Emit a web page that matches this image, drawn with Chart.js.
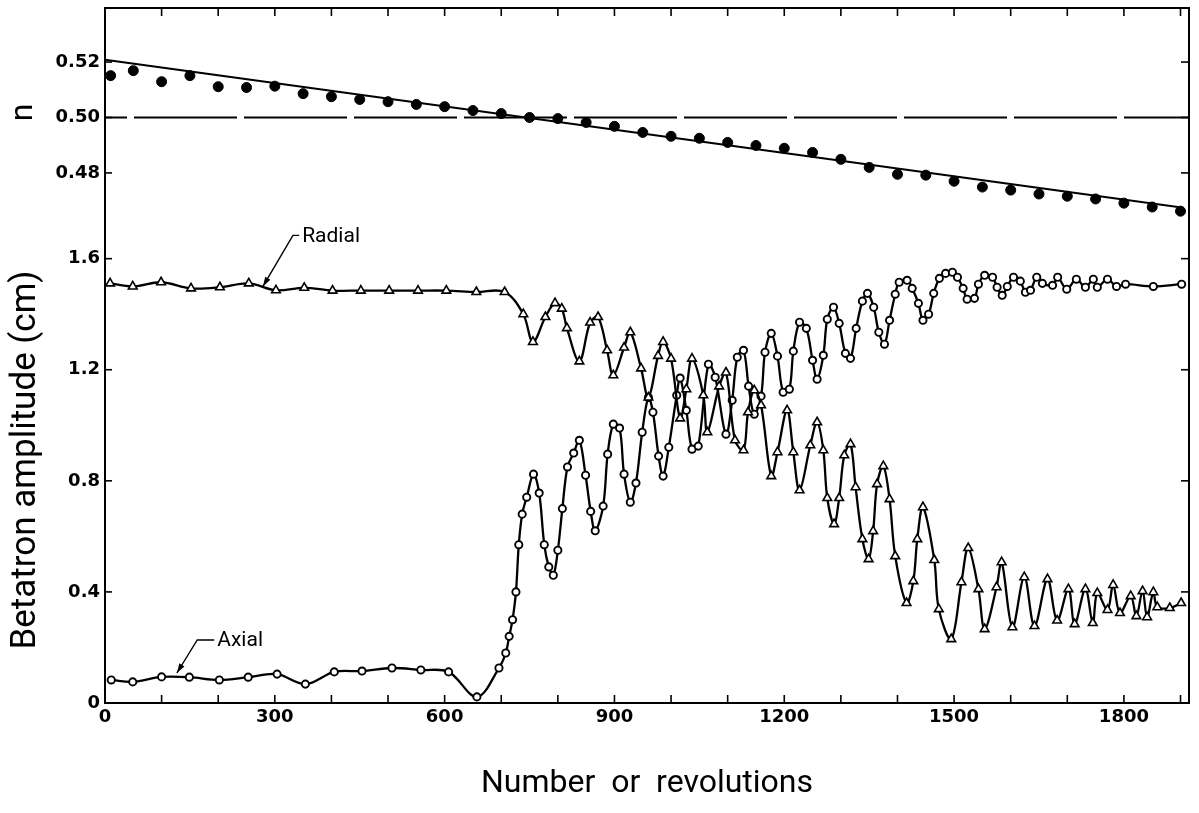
<!DOCTYPE html>
<html>
<head>
<meta charset="utf-8">
<script src="https://cdn.jsdelivr.net/npm/chart.js@4.4.1/dist/chart.umd.min.js"></script>
<style>
  html, body { margin: 0; padding: 0; background: #fff; }
  #caja { width: 1199px; height: 813px; position: relative; }
</style>
</head>
<body>
<div id="caja"><canvas id="grafica"></canvas></div>
<script>
// ---- datos ----
// n (puntos negros) vs numero de revoluciones
const nPuntosX = [10, 50, 100, 150, 200, 250, 300, 350, 400, 450, 500, 550, 600, 650, 700, 750, 800, 850, 900, 950,
  1000, 1050, 1100, 1150, 1200, 1250, 1300, 1350, 1400, 1450, 1500, 1550, 1600, 1650, 1700, 1750, 1800, 1850, 1900];
const nPuntosY = [0.5151, 0.5169, 0.5129, 0.5151, 0.5111, 0.5108, 0.5113, 0.5086, 0.5075, 0.5065, 0.5057, 0.5047, 0.5039,
  0.5025, 0.5014, 0.5000, 0.4996, 0.4982, 0.4968, 0.4946, 0.4932, 0.4925, 0.4910, 0.4899, 0.4889, 0.4874, 0.4849, 0.4820,
  0.4795, 0.4792, 0.4770, 0.4749, 0.4738, 0.4724, 0.4716, 0.4706, 0.4691, 0.4677, 0.4662];
// recta de n
const nRectaX = [0, 1905];
const nRectaY = [0.5208, 0.4674];
// linea n = 0.50
const nMedioX = [0, 1915];
const nMedioY = [0.50, 0.50];

// amplitud radial (triangulos)
const radialX = [9, 49, 99, 152, 203, 254, 302, 352, 402, 452, 502, 553, 603, 656, 706, 739, 756, 778, 795, 807, 816, 838,
  857, 871, 887, 898, 917, 928, 947, 960, 977, 986, 1000, 1016, 1027, 1037, 1057, 1064, 1085, 1097, 1113, 1128, 1136, 1147,
  1159, 1177, 1188, 1205, 1216, 1227, 1246, 1258, 1269, 1276, 1288, 1297, 1306, 1317, 1326, 1338, 1349, 1357, 1364, 1375,
  1386, 1396, 1416, 1428, 1435, 1445, 1465, 1473, 1495, 1513, 1525, 1543, 1554, 1575, 1584, 1603, 1624, 1642, 1665, 1682,
  1702, 1713, 1732, 1745, 1753, 1771, 1781, 1793, 1812, 1822, 1833, 1841, 1852, 1859, 1881, 1901];
const radialY = [1.511, 1.50, 1.515, 1.493, 1.497, 1.511, 1.486, 1.495, 1.485, 1.485, 1.485, 1.485, 1.485, 1.48, 1.48, 1.40,
  1.30, 1.39, 1.44, 1.42, 1.35, 1.23, 1.37, 1.39, 1.27, 1.18, 1.28, 1.335, 1.205, 1.10, 1.25, 1.30, 1.24, 1.025, 1.13, 1.24,
  1.108, 0.975, 1.14, 1.19, 0.946, 0.91, 1.047, 1.126, 1.072, 0.817, 0.903, 1.054, 0.903, 0.766, 0.928, 1.011, 0.91, 0.738,
  0.644, 0.738, 0.892, 0.932, 0.777, 0.59, 0.518, 0.619, 0.788, 0.853, 0.734, 0.529, 0.36, 0.439, 0.59, 0.705, 0.515, 0.338,
  0.23, 0.435, 0.558, 0.41, 0.266, 0.417, 0.507, 0.273, 0.453, 0.277, 0.446, 0.297, 0.41, 0.284, 0.41, 0.288, 0.396, 0.335,
  0.425, 0.324, 0.385, 0.313, 0.403, 0.309, 0.399, 0.345, 0.342, 0.36];

// amplitud axial (circulos)
const axialX = [11, 49, 100, 149, 202, 253, 304, 354, 405, 454, 507, 558, 607, 657, 696, 708, 714, 720, 726, 731, 737, 745,
  757, 767, 776, 784, 792, 800, 808, 817, 828, 838, 849, 858, 866, 880, 888, 898, 909, 917, 928, 938, 949, 960, 968, 978,
  986, 996, 1010, 1016, 1027, 1037, 1048, 1066, 1078, 1097, 1108, 1117, 1128, 1137, 1147, 1159, 1166, 1177, 1188, 1198,
  1209, 1216, 1227, 1239, 1250, 1258, 1269, 1276, 1287, 1297, 1308, 1317, 1327, 1338, 1347, 1358, 1367, 1377, 1386, 1396,
  1403, 1417, 1426, 1437, 1445, 1455, 1464, 1474, 1485, 1497, 1506, 1516, 1523, 1536, 1543, 1554, 1568, 1576, 1585, 1594,
  1605, 1617, 1626, 1635, 1646, 1656, 1674, 1683, 1699, 1716, 1732, 1746, 1753, 1771, 1787, 1803, 1852, 1902];
const axialY = [0.083, 0.076, 0.094, 0.093, 0.083, 0.093, 0.104, 0.068, 0.112, 0.115, 0.126, 0.119, 0.112, 0.022, 0.126,
  0.18, 0.24, 0.30, 0.40, 0.57, 0.68, 0.741, 0.824, 0.756, 0.57, 0.49, 0.46, 0.55, 0.70, 0.85, 0.90, 0.946, 0.82, 0.69, 0.62,
  0.709, 0.896, 1.004, 0.99, 0.824, 0.723, 0.792, 0.975, 1.10, 1.047, 0.889, 0.817, 0.921, 1.108, 1.17, 1.054, 0.914, 0.925,
  1.22, 1.173, 0.968, 1.09, 1.245, 1.27, 1.141, 1.04, 1.105, 1.263, 1.331, 1.249, 1.119, 1.13, 1.267, 1.371, 1.349, 1.234,
  1.166, 1.252, 1.382, 1.425, 1.367, 1.259, 1.241, 1.349, 1.447, 1.475, 1.425, 1.335, 1.292, 1.378, 1.472, 1.515, 1.522,
  1.493, 1.439, 1.378, 1.40, 1.475, 1.529, 1.547, 1.551, 1.533, 1.493, 1.454, 1.457, 1.508, 1.54, 1.533, 1.497, 1.468, 1.50,
  1.533, 1.519, 1.479, 1.486, 1.533, 1.511, 1.504, 1.533, 1.49, 1.526, 1.497, 1.526, 1.497, 1.526, 1.50, 1.508, 1.50, 1.508];

// marcas de los ejes
const xMarcas = [0, 100, 200, 300, 400, 500, 600, 700, 800, 900, 1000, 1100, 1200, 1300, 1400, 1500, 1600, 1700, 1800, 1900];
const xEtiquetas = [0, 300, 600, 900, 1200, 1500, 1800];
const yMarcas = [0, 0.4, 0.8, 1.2, 1.6];
const nMarcas = [0.48, 0.50, 0.52];

const puntos = (xs, ys) => xs.map((x, i) => ({ x: x, y: ys[i] }));

// flechas de "Radial" y "Axial" (en unidades de los datos)
const rotulos = [
  { texto: 'Radial', punta: [279, 1.50], codo: [332, 1.684], fin: [343, 1.684] },
  { texto: 'Axial', punta: [127, 0.108], codo: [163, 0.227], fin: [193, 0.227] }
];

const fuenteTicks = { family: 'DejaVu Sans', weight: 'bold', size: 18 };

const marcoPlugin = {
  id: 'marco',
  afterDatasetsDraw(chart) {
    const { ctx, chartArea: a, scales } = chart;
    ctx.save();
    ctx.strokeStyle = '#000';
    ctx.lineWidth = 2;
    ctx.strokeRect(a.left, a.top, a.right - a.left, a.bottom - a.top);

    ctx.lineWidth = 1.6;
    const raya = (x1, y1, x2, y2) => { ctx.beginPath(); ctx.moveTo(x1, y1); ctx.lineTo(x2, y2); ctx.stroke(); };
    xMarcas.forEach(v => {
      const px = scales.x.getPixelForValue(v);
      raya(px, a.bottom, px, a.bottom - 8);
      raya(px, a.top, px, a.top + 8);
    });
    yMarcas.forEach(v => {
      if (v === 0) return;
      const py = scales.y.getPixelForValue(v);
      raya(a.left, py, a.left + 7, py);
      raya(a.right, py, a.right - 8, py);
    });
    nMarcas.forEach(v => {
      const py = scales.yN.getPixelForValue(v);
      raya(a.left, py, a.left + 7, py);
      raya(a.right, py, a.right - 8, py);
    });

    // rotulos con flecha
    ctx.lineWidth = 1.4;
    ctx.fillStyle = '#000';
    ctx.font = '21px Roboto';
    ctx.textBaseline = 'middle';
    rotulos.forEach(r => {
      const px = p => [scales.x.getPixelForValue(p[0]), scales.y.getPixelForValue(p[1])];
      const [tx, ty] = px(r.punta), [cx, cy] = px(r.codo), [fx, fy] = px(r.fin);
      ctx.beginPath();
      ctx.moveTo(fx, fy); ctx.lineTo(cx, cy); ctx.lineTo(tx, ty);
      ctx.stroke();
      const ang = Math.atan2(ty - cy, tx - cx);
      ctx.beginPath();
      ctx.moveTo(tx, ty);
      ctx.lineTo(tx - 10 * Math.cos(ang - 0.3), ty - 10 * Math.sin(ang - 0.3));
      ctx.lineTo(tx - 10 * Math.cos(ang + 0.3), ty - 10 * Math.sin(ang + 0.3));
      ctx.closePath();
      ctx.fill();
      ctx.fillText(r.texto, fx + 3, fy + 1);
    });
    ctx.restore();
  }
};

// quita el relleno que Chart.js deja para la primera y ultima etiqueta
const sinRelleno = s => {
  s.paddingTop = 0; s.paddingBottom = 0; s.paddingLeft = 0; s.paddingRight = 0;
};

const ctx = document.getElementById('grafica').getContext('2d');
const chart = new Chart(ctx, {
  type: 'line',
  data: {
    datasets: [
      {
        label: 'n = 0.50', data: puntos(nMedioX, nMedioY), yAxisID: 'yN',
        borderColor: '#000', borderWidth: 2, borderDash: [103, 7], borderDashOffset: 81,
        pointRadius: 0, tension: 0, clip: false
      },
      {
        label: 'n recta', data: puntos(nRectaX, nRectaY), yAxisID: 'yN',
        borderColor: '#000', borderWidth: 2, pointRadius: 0, tension: 0, clip: false
      },
      {
        label: 'n', data: puntos(nPuntosX, nPuntosY), yAxisID: 'yN', showLine: false,
        pointRadius: 5, pointBackgroundColor: '#000', pointBorderColor: '#000', clip: false
      },
      {
        label: 'Radial', data: puntos(radialX, radialY), yAxisID: 'y',
        borderColor: '#000', borderWidth: 2.3, tension: 0.35,
        pointStyle: 'triangle', pointRadius: 5, pointBorderWidth: 1.6,
        pointBackgroundColor: '#fff', pointBorderColor: '#000', clip: false
      },
      {
        label: 'Axial', data: puntos(axialX, axialY), yAxisID: 'y',
        borderColor: '#000', borderWidth: 2.3, tension: 0.35,
        pointStyle: 'circle', pointRadius: 3.6, pointBorderWidth: 1.9,
        pointBackgroundColor: '#fff', pointBorderColor: '#000', clip: false
      }
    ]
  },
  options: {
    responsive: true,
    maintainAspectRatio: false,
    animation: false,
    layout: { padding: { top: 8, right: 10, left: 0, bottom: 0 } },
    plugins: { legend: { display: false }, tooltip: { enabled: false } },
    scales: {
      x: {
        type: 'linear', min: 0, max: 1915,
        afterFit: s => { s.height = 110; sinRelleno(s); },
        afterBuildTicks: s => { s.ticks = xMarcas.map(v => ({ value: v })); },
        grid: { display: false, drawTicks: false },
        border: { display: false },
        ticks: {
          font: fuenteTicks, color: '#000', padding: 4, maxRotation: 0, autoSkip: false,
          callback: v => xEtiquetas.includes(v) ? String(v) : ''
        },
        title: {
          display: true, text: 'Number  or  revolutions', color: '#000',
          font: { family: 'Roboto', size: 32 }, padding: { top: 0, bottom: 10 }
        }
      },
      y: {
        type: 'linear', position: 'left', stack: 'izq', stackWeight: 486,
        min: 0, max: 1.75,
        afterFit: s => { s.width = 105; sinRelleno(s); },
        afterBuildTicks: s => { s.ticks = yMarcas.map(v => ({ value: v })); },
        grid: { display: false, drawTicks: false },
        border: { display: false },
        ticks: { font: fuenteTicks, color: '#000', padding: 5, callback: v => v === 0 ? '0' : v.toFixed(1) },
        title: {
          display: true, text: 'Betatron amplitude (cm)', color: '#000',
          font: { family: 'Roboto', size: 35 }, padding: { top: 5, bottom: 0 }
        }
      },
      yN: {
        type: 'linear', position: 'left', stack: 'izq', stackWeight: 209,
        min: 0.4641, max: 0.5395,
        afterFit: s => { s.width = 105; sinRelleno(s); },
        afterBuildTicks: s => { s.ticks = nMarcas.map(v => ({ value: v })); },
        grid: { display: false, drawTicks: false },
        border: { display: false },
        ticks: { font: fuenteTicks, color: '#000', padding: 5, callback: v => v.toFixed(2) },
        title: {
          display: true, text: 'n', color: '#000',
          font: { family: 'Roboto', size: 32 }, padding: { top: 5, bottom: 0 }
        }
      }
    }
  },
  plugins: [marcoPlugin]
});
</script>
</body>
</html>
